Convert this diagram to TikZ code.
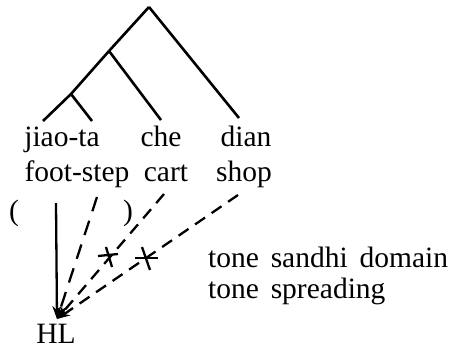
\documentclass[tikz,border=0pt]{standalone}
\usepackage{fontspec}
\setmainfont{Liberation Serif}
\usetikzlibrary{arrows.meta}

\begin{document}
\begin{tikzpicture}[x=1pt,y=-1pt,
	word/.style={anchor=base,inner sep=0pt,font=\fontsize{29.5}{32}\selectfont},
	branch/.style={line width=2.6pt},
	link/.style={line width=2.3pt,-{Stealth[length=13pt,width=9pt]}},
	blocked/.style={link,dash pattern=on 12pt off 8pt},
	cross/.style={line width=2.3pt}]
	\useasboundingbox (0,0) rectangle (450,349);
	\coordinate (top) at (149,7);
	\coordinate (n2) at (109,51);
	\coordinate (n3) at (71,94);
	\coordinate (l1) at (43,121);
	\coordinate (l2) at (92,121);
	\coordinate (l3) at (161,120);
	\coordinate (l4) at (239,118);
	\node[word] (jiaota) at (62,146) {jiao-ta};
	\node[word] (che) at (161,146) {che};
	\node[word] (dian) at (246,146) {dian};
	\node[word] (footstep) at (77,181) {foot-step};
	\node[word] (cart) at (166,181) {cart};
	\node[word] (shop) at (244,181) {shop};
	\node[word] (lp) at (14,220) {(};
	\node[word] (rp) at (128,220) {)};
	\node[word] (HL) at (56,343) {HL};
	\node[word,anchor=base west] (domain) at (208,267) {\spaceskip=0.4em tone sandhi domain};
	\node[word,anchor=base west] (spread) at (208,298) {\spaceskip=0.4em tone spreading};
	\coordinate (tip) at (57,319);
	\coordinate (s1) at (56,203);
	\coordinate (s2) at (97,197);
	\coordinate (s3) at (164,194);
	\coordinate (s4) at (238,195);
	\coordinate (x1) at (108,256);
	\coordinate (x2) at (146,258);
	\draw[branch](top)--(n2);
	\draw[branch](n2)--(n3);
	\draw[branch](n3)--(l1);
	\draw[branch](n3)--(l2);
	\draw[branch](n2)--(l3);
	\draw[branch](top)--(l4);
	\draw[link](s1)--(tip);
	\draw[blocked,dash pattern=on 15pt off 10pt](s2)--(tip);
	\draw[blocked](s3)--(tip);
	\draw[blocked](s4)--(tip);
	\draw[cross](x1)++(-10,0)--++(20,-2);
	\draw[cross](x1)++(-2,-9)--++(6,20);
	\draw[cross](x2)++(-11,0)--++(23,0);
	\draw[cross](x2)++(-4,-11)--++(8,23);
\end{tikzpicture}
\end{document}
